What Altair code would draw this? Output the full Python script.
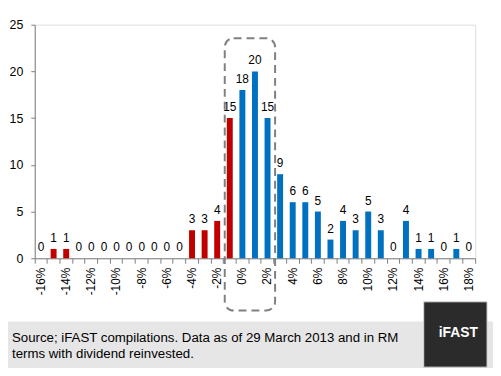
import altair as alt
import pandas as pd

# ---- data ----
pct = list(range(-16, 19))
counts = [0, 1, 1,
          0, 0, 0, 0, 0, 0, 0, 0, 0,
          3, 3, 4, 15,
          18, 20, 15,
          9, 6, 6, 5, 2, 4, 3, 5, 3, 0, 4, 1, 1, 0, 1, 0]

# highlighted region (dashed box) in data units
hl_x = [-1.4]
hl_x2 = [2.6]
hl_y = [23.55]
hl_y2 = [-5.6]

y_ticks = [0, 5, 10, 15, 20, 25]
footer_lines = ["Source; iFAST compilations. Data as of 29 March 2013 and in RM",
                "terms with dividend reinvested."]
logo_text = "iFAST"

FONT = "Liberation Sans"
W, H = 445, 236

df = pd.DataFrame({"pct": pct, "count": counts})
hl = pd.DataFrame({"x": hl_x, "x2": hl_x2, "y": hl_y, "y2": hl_y2})
one = pd.DataFrame({"a": [0]})

xband = alt.Scale(domain=pct, paddingInner=0, paddingOuter=0)
xq = alt.Scale(domain=[pct[0] - 0.5, pct[-1] + 0.5], nice=False, zero=False)
yscale = alt.Scale(domain=[0, 25], nice=False)

xaxis = alt.Axis(
    labelExpr="datum.value % 2 == 0 ? datum.value + '%' : ''",
    labelAngle=-90,
    labelOverlap=False,
    labelBound=False,
    labelPadding=4,
    tickSize=5,
    bandPosition=1,
    tickExtra=True,
    tickColor="#808080",
    domainColor="#808080",
    labelColor="#000000",
    labelFont=FONT,
    labelFontSize=12,
    grid=False,
    title=None,
)
yaxis = alt.Axis(
    values=y_ticks,
    tickSize=4,
    labelPadding=8,
    tickColor="#808080",
    domainColor="#808080",
    labelColor="#000000",
    labelFont=FONT,
    labelFontSize=12.5,
    grid=False,
    title=None,
)

bars = alt.Chart(df).mark_bar(size=6).encode(
    x=alt.X("pct:O", scale=xband, axis=xaxis, sort=None),
    y=alt.Y("count:Q", scale=yscale, axis=yaxis),
    color=alt.condition(alt.datum.pct < 0, alt.value("#C00000"), alt.value("#0070C0")),
)

labels = alt.Chart(df).mark_text(
    baseline="bottom", dy=-4, font=FONT, fontSize=12, color="#000000"
).encode(
    x=alt.X("pct:O", scale=xband, sort=None),
    y=alt.Y("count:Q", scale=yscale),
    text=alt.Text("count:Q"),
)

main = alt.layer(bars, labels)

box = alt.Chart(hl).mark_rect(
    fillOpacity=0, stroke="#808080", strokeWidth=2, strokeDash=[8, 5], cornerRadius=9
).encode(
    x=alt.X("x:Q", scale=xq, axis=None),
    x2="x2:Q",
    y=alt.Y("y:Q", scale=yscale),
    y2="y2:Q",
)

footer = alt.Chart(one).mark_rect(color="#E6E6E6").encode(
    x=alt.value(-30), x2=alt.value(470), y=alt.value(300), y2=alt.value(360)
)

footer_text = alt.Chart(one).mark_text(
    align="left", baseline="middle", font=FONT, fontSize=13.4, color="#000000", lineHeight=16
).encode(
    x=alt.value(-23), y=alt.value(317), text=alt.value(footer_lines)
)

logo = alt.Chart(one).mark_rect(color="#2B2B2B", stroke="#D9D9D9", strokeWidth=1).encode(
    x=alt.value(393), x2=alt.value(457), y=alt.value(280), y2=alt.value(346)
)
logo_t = alt.Chart(one).mark_text(
    align="center", baseline="middle", font=FONT, fontSize=14, fontWeight="bold", color="#FFFFFF"
).encode(
    x=alt.value(428), y=alt.value(312), text=alt.value(logo_text)
)

deco = alt.layer(footer, footer_text, logo, logo_t)

chart = alt.layer(deco, main, box).resolve_scale(x="independent").properties(
    width=W, height=H,
    autosize=alt.AutoSizeParams(type="none"),
    padding={"left": 27, "top": 15, "right": 18, "bottom": 109},
).configure_view(stroke=None).configure(background="#FFFFFF")

chart.save("out.html", embed_options={"renderer": "svg", "actions": False})
